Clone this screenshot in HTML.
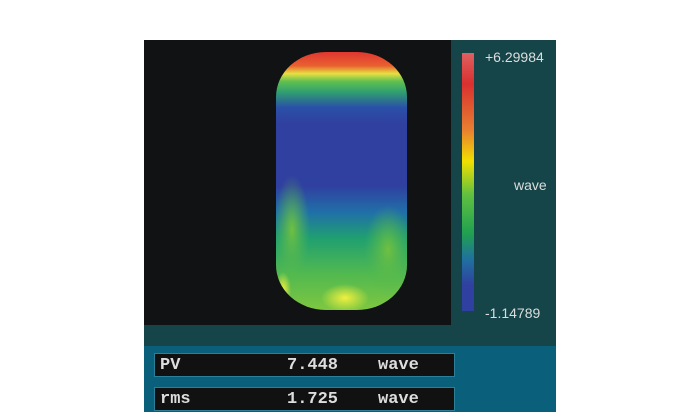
<!DOCTYPE html>
<html><head><style>
body{margin:0;background:#fff;width:700px;height:420px;overflow:hidden;position:relative;font-family:"Liberation Mono",monospace}
.box{position:absolute;left:154px;width:301px;height:24px;background:#111;border:1px solid #2d7f99;box-sizing:border-box;color:#ddd;font-size:17px;line-height:23px;font-weight:bold}
.box span{position:absolute}
</style></head><body>
<div style="position:absolute;left:144px;top:40px;width:412px;height:306px;background:#154548"></div>
<div style="position:absolute;left:144px;top:40px;width:307px;height:285px;background:#111213"></div>
<div style="position:absolute;left:144px;top:346px;width:412px;height:66px;background:#0a5f7a"></div>
<svg style="position:absolute;left:0;top:0" width="700" height="420">
<defs>
<linearGradient id="cb" x1="0" y1="0" x2="0" y2="1">
<stop offset="0" stop-color="#e06060"/><stop offset="0.12" stop-color="#d83030"/><stop offset="0.3" stop-color="#e88030"/><stop offset="0.42" stop-color="#f0e000"/><stop offset="0.55" stop-color="#60c040"/><stop offset="0.7" stop-color="#20a050"/><stop offset="0.8" stop-color="#2070a0"/><stop offset="0.9" stop-color="#3040a0"/><stop offset="1" stop-color="#3040a0"/>
</linearGradient>
<linearGradient id="sh" x1="0" y1="0" x2="0" y2="1">
<stop offset="0" stop-color="#e03030"/><stop offset="0.06" stop-color="#e86030"/><stop offset="0.09" stop-color="#e8e040"/><stop offset="0.12" stop-color="#60c050"/><stop offset="0.16" stop-color="#30a070"/><stop offset="0.22" stop-color="#2a50a8"/><stop offset="0.28" stop-color="#3040a0"/><stop offset="0.52" stop-color="#3040a0"/><stop offset="0.62" stop-color="#2070a8"/><stop offset="0.72" stop-color="#20a070"/><stop offset="0.85" stop-color="#50b850"/><stop offset="1" stop-color="#80c840"/>
</linearGradient>
<radialGradient id="y1" cx="0.5" cy="0.5" r="0.5"><stop offset="0" stop-color="#f0f040"/><stop offset="1" stop-color="#f0f040" stop-opacity="0"/></radialGradient>
<radialGradient id="g1" cx="0.5" cy="0.5" r="0.5"><stop offset="0" stop-color="#70c040"/><stop offset="1" stop-color="#50b850" stop-opacity="0"/></radialGradient>
<clipPath id="cp"><rect x="276" y="52" width="131" height="258" rx="50" ry="45"/></clipPath>
</defs>
<g clip-path="url(#cp)">
<rect x="270" y="50" width="140" height="262" fill="url(#sh)"/>
<ellipse cx="292" cy="230" rx="18" ry="55" fill="url(#g1)"/>
<ellipse cx="388" cy="250" rx="24" ry="45" fill="url(#g1)"/>
<ellipse cx="345" cy="298" rx="24" ry="14" fill="url(#y1)"/>
<ellipse cx="283" cy="290" rx="8" ry="18" fill="url(#y1)"/>
</g>
<rect x="462" y="53" width="12" height="258" fill="url(#cb)"/>
<g font-family="Liberation Sans,sans-serif" font-size="14" fill="#ddd">
<text x="485" y="62">+6.29984</text>
<text x="514" y="190">wave</text>
<text x="485" y="318">-1.14789</text>
</g>
</svg>
<div class="box" style="top:353px"><span style="left:5px">PV</span><span style="left:132px">7.448</span><span style="left:223px">wave</span></div>
<div class="box" style="top:387px"><span style="left:5px">rms</span><span style="left:132px">1.725</span><span style="left:223px">wave</span></div>
</body></html>
